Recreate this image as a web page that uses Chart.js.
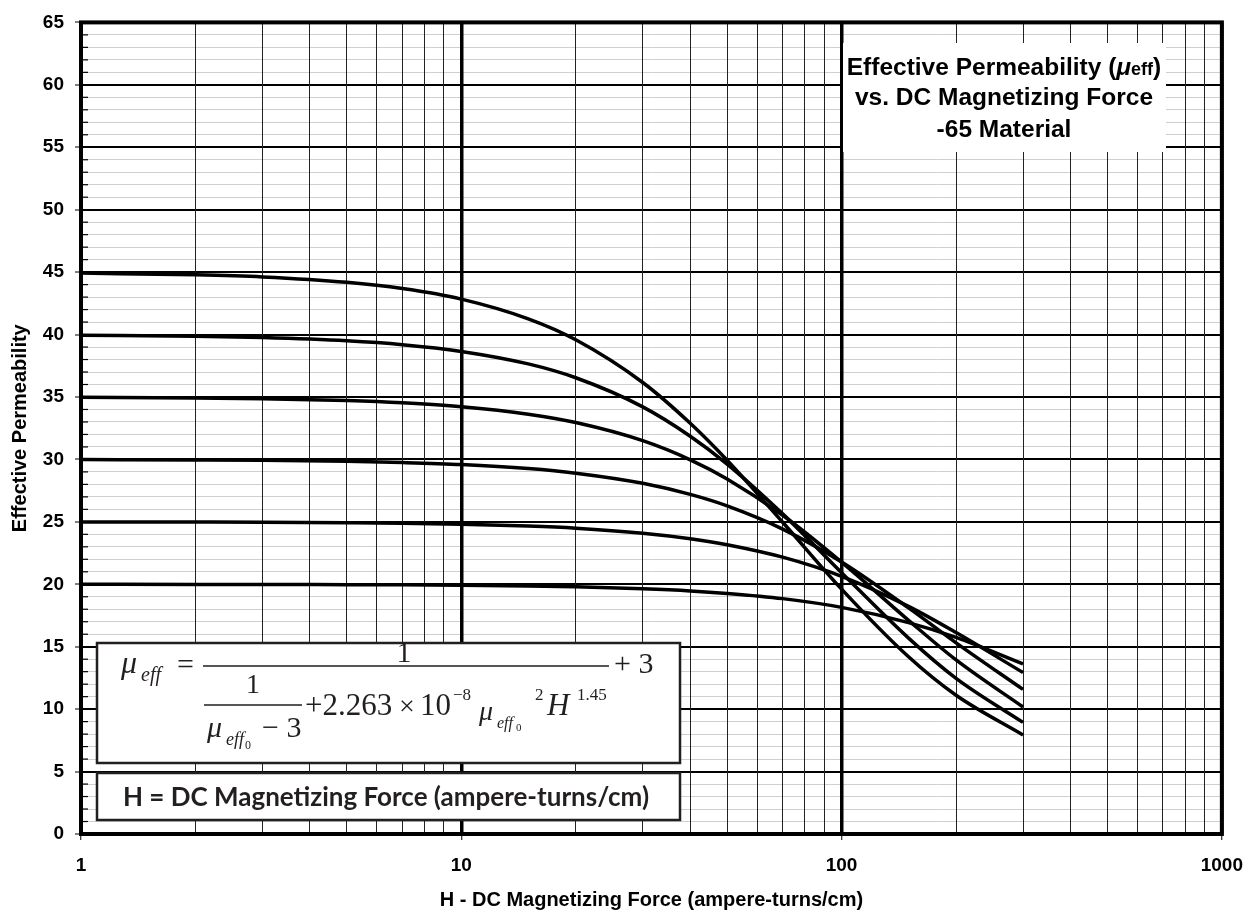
<!DOCTYPE html>
<html>
<head>
<meta charset="utf-8">
<script src="https://cdn.jsdelivr.net/npm/chart.js@4.4.1/dist/chart.umd.min.js"></script>
<style>
  html, body { margin: 0; padding: 0; background: #fff; }
  #wrap { width: 1257px; height: 914px; }
</style>
</head>
<body>
<div id="wrap"><canvas id="permChart" width="1257" height="914"></canvas></div>
<script>
const hValues = [1, 2, 3, 5, 7, 10, 15, 20, 30, 40, 50, 70, 100, 150, 200, 300];

// effective permeability per starting permeability
const mu45 = [44.92, 44.78, 44.61, 44.18, 43.68, 42.84, 41.26, 39.58, 36.16, 32.89, 29.93, 24.97, 19.61, 14.19, 11.11, 7.93];
const mu40 = [39.95, 39.87, 39.76, 39.50, 39.19, 38.65, 37.65, 36.54, 34.21, 31.86, 29.63, 25.64, 20.93, 15.69, 12.47, 8.94];
const mu35 = [34.97, 34.92, 34.86, 34.71, 34.53, 34.22, 33.62, 32.95, 31.50, 29.97, 28.44, 25.53, 21.77, 17.11, 13.94, 10.17];
const mu30 = [29.99, 29.96, 29.93, 29.85, 29.75, 29.59, 29.27, 28.90, 28.09, 27.20, 26.28, 24.42, 21.79, 18.11, 15.31, 11.58];
const mu25 = [24.99, 24.98, 24.97, 24.93, 24.89, 24.81, 24.66, 24.49, 24.09, 23.65, 23.17, 22.17, 20.64, 18.23, 16.13, 12.93];
const mu20 = [20.00, 19.99, 19.99, 19.97, 19.96, 19.93, 19.87, 19.80, 19.64, 19.47, 19.27, 18.85, 18.15, 16.93, 15.74, 13.62];

const seriesNames = ["μeff0 = 45", "μeff0 = 40", "μeff0 = 35", "μeff0 = 30", "μeff0 = 25", "μeff0 = 20"];
const seriesData = [mu45, mu40, mu35, mu30, mu25, mu20];

// tick labels
const xTickLabels = [1, 10, 100, 1000];
const yTickLabels = [0, 5, 10, 15, 20, 25, 30, 35, 40, 45, 50, 55, 60, 65];

// grid positions: 1..9 in every decade, every unit on y
const xGridValues = [];
for (let d = 1; d < 1000; d *= 10) {
  for (let m = 1; m < 10; m++) xGridValues.push(m * d);
}
xGridValues.push(1000);
const yGridValues = [];
for (let v = 0; v <= 65; v++) yGridValues.push(v);

const sans = '"Liberation Sans", Arial, Helvetica, sans-serif';
const serif = '"Liberation Serif", "Times New Roman", serif';

const isDecade = (v) => xTickLabels.includes(v);
const isMajorY = (v) => yTickLabels.includes(v);

// pieces of the formula: text, x, baseline, size, italic, align
const formulaParts = [
  ["μ", 121, 673, 32, true],
  ["eff", 141, 681, 20, true],
  ["=", 177, 674, 30, false],
  ["1", 404, 662, 30, false, "center"],
  ["+ 3", 614, 673, 30, false],
  ["1", 253, 693, 28, false, "center"],
  ["μ", 207, 737, 30, true],
  ["eff", 226, 745, 18, true],
  ["0", 245, 749, 12, false],
  ["− 3", 262, 737, 30, false],
  ["+2.263", 305, 715, 31, false],
  ["×", 399, 715, 28, false],
  ["10", 420, 715, 31, false],
  ["−8", 453, 700, 17, false],
  ["μ", 479, 720, 28, true],
  ["eff", 497, 728, 16, true],
  ["0", 516, 731, 11, false],
  ["2", 535, 700, 17, false],
  ["H", 547, 715, 31, true],
  ["1.45", 577, 700, 17, false]
];

const decorPlugin = {
  id: "decor",
  beforeDraw(chart) {
    const c = chart.ctx;
    c.save();
    c.fillStyle = "#fff";
    c.fillRect(0, 0, chart.width, chart.height);
    c.restore();
  },
  afterDatasetsDraw(chart) {
    const c = chart.ctx;
    const a = chart.chartArea;
    const ys = chart.scales.y;
    c.save();

    // short inward ticks on the left edge at the minor values
    c.strokeStyle = "#000";
    c.lineWidth = 1.2;
    yGridValues.forEach((v) => {
      if (isMajorY(v)) return;
      const y = ys.getPixelForValue(v);
      c.beginPath();
      c.moveTo(a.left, y);
      c.lineTo(a.left + 7, y);
      c.stroke();
    });

    // title block (white patch, no border)
    c.fillStyle = "#fff";
    c.fillRect(843, 43, 323, 109);
    c.fillStyle = "#000";
    c.textBaseline = "alphabetic";
    const cx = 1004;
    const parts = [
      ["Effective Permeability (", "bold 24.5px " + sans],
      ["μ", "bold italic 24.5px " + sans],
      ["eff", "bold 18px " + sans],
      [")", "bold 24.5px " + sans]
    ];
    let total = 0;
    parts.forEach((p) => { c.font = p[1]; total += c.measureText(p[0]).width; });
    let x = cx - total / 2;
    parts.forEach((p) => {
      c.font = p[1];
      c.textAlign = "left";
      c.fillText(p[0], x, 75);
      x += c.measureText(p[0]).width;
    });
    c.font = "bold 24.5px " + sans;
    c.textAlign = "center";
    c.fillText("vs. DC Magnetizing Force", cx, 105);
    c.fillText("-65 Material", cx, 137);

    // formula box
    c.fillStyle = "#fff";
    c.strokeStyle = "#231f20";
    c.lineWidth = 2.5;
    c.fillRect(97, 643, 583, 120);
    c.strokeRect(97, 643, 583, 120);
    c.fillStyle = "#231f20";
    formulaParts.forEach((p) => {
      c.font = (p[4] ? "italic " : "") + p[3] + "px " + serif;
      c.textAlign = p[5] || "left";
      c.fillText(p[0], p[1], p[2]);
    });
    c.lineWidth = 1.5;
    c.beginPath();
    c.moveTo(203, 666); c.lineTo(609, 666);
    c.moveTo(204, 705); c.lineTo(302, 705);
    c.stroke();

    // H definition box
    c.fillStyle = "#fff";
    c.lineWidth = 2.5;
    c.fillRect(97, 773, 583, 47);
    c.strokeRect(97, 773, 583, 47);
    c.fillStyle = "#231f20";
    c.font = 'bold 26px Lato, "Open Sans", sans-serif';
    c.textAlign = "center";
    c.fillText("H = DC Magnetizing Force (ampere-turns/cm)", 386, 806);

    // plot frame
    c.strokeStyle = "#000";
    c.lineWidth = 4;
    c.strokeRect(a.left, a.top, a.right - a.left, a.bottom - a.top);
    c.restore();
  }
};

const ctx = document.getElementById("permChart");

new Chart(ctx, {
  type: "line",
  data: {
    datasets: seriesData.map((arr, i) => ({
      label: seriesNames[i],
      data: hValues.map((h, j) => ({ x: h, y: arr[j] })),
      borderColor: "#000",
      borderWidth: 3.5,
      borderCapStyle: "butt",
      pointRadius: 0,
      fill: false,
      cubicInterpolationMode: "monotone"
    }))
  },
  options: {
    responsive: false,
    devicePixelRatio: 1,
    animation: false,
    layout: { padding: { top: 17, right: 35, left: 0, bottom: 0 } },
    plugins: {
      legend: { display: false },
      tooltip: { enabled: false }
    },
    scales: {
      x: {
        type: "logarithmic",
        min: 1,
        max: 1000,
        afterBuildTicks: (s) => { s.ticks = xGridValues.map((v) => ({ value: v })); },
        afterFit: (s) => { s.height = 80; },
        border: { display: false },
        grid: {
          z: 0,
          color: (c) => (isDecade(c.tick.value) ? "#000" : "#222"),
          lineWidth: (c) => (isDecade(c.tick.value) ? 3.5 : 1),
          drawTicks: true,
          tickLength: 6,
          tickWidth: 1,
          tickColor: (c) => (isDecade(c.tick.value) ? "#000" : "rgba(0,0,0,0)")
        },
        ticks: {
          autoSkip: false,
          maxRotation: 0,
          padding: 14,
          color: "#000",
          font: { family: sans, size: 19, weight: "bold" },
          callback: (v) => (isDecade(v) ? String(v) : "")
        },
        title: {
          display: true,
          text: "H - DC Magnetizing Force (ampere-turns/cm)",
          color: "#000",
          font: { family: sans, size: 20, weight: "bold" },
          padding: { top: 0, bottom: 2 }
        }
      },
      y: {
        type: "linear",
        min: 0,
        max: 65,
        afterBuildTicks: (s) => { s.ticks = yGridValues.map((v) => ({ value: v })); },
        afterFit: (s) => { s.width = 81; },
        border: { display: false },
        grid: {
          z: -1, // under the vertical lines
          color: (c) => (isMajorY(c.tick.value) ? "#000" : "#cfcfcf"),
          lineWidth: (c) => (isMajorY(c.tick.value) ? 2 : 1),
          drawTicks: true,
          tickLength: 6,
          tickWidth: 1,
          tickColor: (c) => (isMajorY(c.tick.value) ? "#000" : "rgba(0,0,0,0)")
        },
        ticks: {
          autoSkip: false,
          padding: 11,
          color: "#000",
          font: { family: sans, size: 19, weight: "bold" },
          callback: (v) => (isMajorY(v) ? String(v) : "")
        },
        title: {
          display: true,
          text: "Effective Permeability",
          color: "#000",
          font: { family: sans, size: 20, weight: "bold" },
          padding: { top: 8, bottom: 0 }
        }
      }
    }
  },
  plugins: [decorPlugin]
});
</script>
</body>
</html>
